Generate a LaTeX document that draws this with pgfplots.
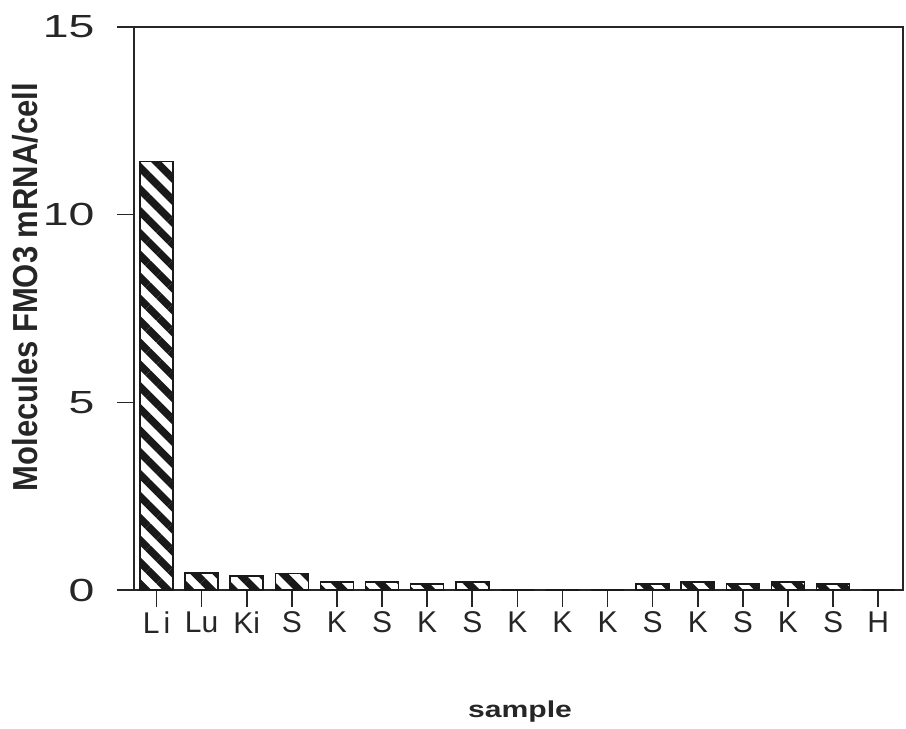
\documentclass[border=0pt]{standalone}
\usepackage{fontspec}
\setmainfont{Liberation Sans}
\newfontfamily\ytfont[FakeStretch=1.45]{Liberation Sans}
\newfontfamily\labfont[FakeStretch=1.31]{Liberation Sans}
\usepackage{pgfplots}
\pgfplotsset{compat=1.18}
\usetikzlibrary{patterns.meta}
\begin{document}
\begin{tikzpicture}
\useasboundingbox (-134pt,-139pt) rectangle (772pt,590pt);
\begin{axis}[
  at={(0pt,0pt)}, anchor=south west,
  scale only axis,
  width=769pt, height=563pt,
  xmin=-0.5, xmax=16.55,
  ymin=0, ymax=15,
  axis line style={line width=1.6pt, draw=black!85},
  tick pos=left,
  tick align=outside,
  major tick length=17pt,
  tick style={line width=1.6pt, black!85},
  xtick={0,...,16},
  xticklabels={L\kern4pt i,Lu,Ki,S,K,S,K,S,K,K,K,S,K,S,K,S,H},
  ytick={0,5,10,15},
  yticklabels={0,5,10,15},
  /pgf/number format/assume math mode=true,
  xticklabel style={font=\fontsize{30}{34}\selectfont, text=black!85, anchor=north, yshift=-1pt},
  yticklabel style={font=\ytfont\fontsize{32}{36}\selectfont, text=black!85, anchor=east, xshift=-19pt},
  xlabel={\labfont\bfseries\fontsize{23}{26}\selectfont sample},
  xlabel style={at={(axis description cs:0.502,-0.2167)}, anchor=center, text=black!85},
  ylabel={\scalebox{1}[1.12]{\bfseries\fontsize{31}{34}\selectfont Molecules FMO3 mRNA/cell}},
  ylabel style={at={(axis description cs:-0.1417,0.538)}, anchor=center, text=black!85},
]
\addplot[ybar, bar width=33pt, draw=black!90, line width=1.6pt,
  pattern={Lines[angle=-45, distance=15.5pt, line width=7.5pt]}, pattern color=black!90]
  coordinates {
  (0,11.42) (1,0.45) (2,0.38) (3,0.44) (4,0.22) (5,0.22) (6,0.16) (7,0.22)
  (8,0) (9,0) (10,0) (11,0.16) (12,0.21) (13,0.16) (14,0.21) (15,0.16) (16,0)
  };
\end{axis}
\end{tikzpicture}
\end{document}
